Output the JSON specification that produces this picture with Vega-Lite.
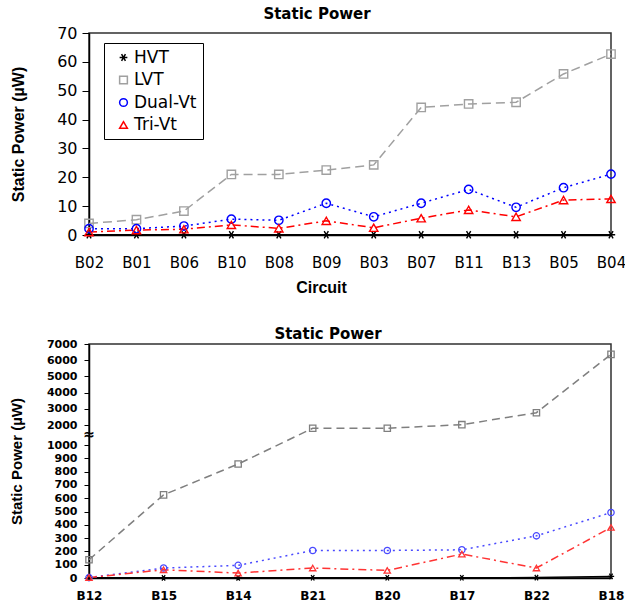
{
 "$schema": "https://vega.github.io/schema/vega-lite/v6.json",
 "padding": {"left": 8, "top": 6, "right": 0, "bottom": 0},
 "spacing": 30,
 "config": {
  "font": "DejaVu Sans",
  "view": {"stroke": "#303030", "strokeWidth": 1.5},
  "axis": {"grid": false, "domainColor": "#000", "domainWidth": 1.5, "tickColor": "#000", "labelColor": "#000", "titleColor": "#000", "titleFont": "Liberation Sans", "titleFontWeight": "bold"},
  "title": {"font": "DejaVu Sans", "fontWeight": "bold", "fontSize": 15, "color": "#000"}
 },
 "datasets": {
  "top": [
   {"Circuit": "B02", "Type": "HVT", "Power": 0.1},
   {"Circuit": "B01", "Type": "HVT", "Power": 0.1},
   {"Circuit": "B06", "Type": "HVT", "Power": 0.1},
   {"Circuit": "B10", "Type": "HVT", "Power": 0.1},
   {"Circuit": "B08", "Type": "HVT", "Power": 0.1},
   {"Circuit": "B09", "Type": "HVT", "Power": 0.1},
   {"Circuit": "B03", "Type": "HVT", "Power": 0.1},
   {"Circuit": "B07", "Type": "HVT", "Power": 0.1},
   {"Circuit": "B11", "Type": "HVT", "Power": 0.1},
   {"Circuit": "B13", "Type": "HVT", "Power": 0.1},
   {"Circuit": "B05", "Type": "HVT", "Power": 0.1},
   {"Circuit": "B04", "Type": "HVT", "Power": 0.1},
   {"Circuit": "B02", "Type": "LVT", "Power": 4},
   {"Circuit": "B01", "Type": "LVT", "Power": 5.3},
   {"Circuit": "B06", "Type": "LVT", "Power": 8.3},
   {"Circuit": "B10", "Type": "LVT", "Power": 21},
   {"Circuit": "B08", "Type": "LVT", "Power": 21},
   {"Circuit": "B09", "Type": "LVT", "Power": 22.5},
   {"Circuit": "B03", "Type": "LVT", "Power": 24.3},
   {"Circuit": "B07", "Type": "LVT", "Power": 44.2},
   {"Circuit": "B11", "Type": "LVT", "Power": 45.4},
   {"Circuit": "B13", "Type": "LVT", "Power": 46},
   {"Circuit": "B05", "Type": "LVT", "Power": 55.8},
   {"Circuit": "B04", "Type": "LVT", "Power": 62.7},
   {"Circuit": "B02", "Type": "Dual-Vt", "Power": 2.2},
   {"Circuit": "B01", "Type": "Dual-Vt", "Power": 2.2},
   {"Circuit": "B06", "Type": "Dual-Vt", "Power": 3.1},
   {"Circuit": "B10", "Type": "Dual-Vt", "Power": 5.5},
   {"Circuit": "B08", "Type": "Dual-Vt", "Power": 5.1},
   {"Circuit": "B09", "Type": "Dual-Vt", "Power": 11},
   {"Circuit": "B03", "Type": "Dual-Vt", "Power": 6.3},
   {"Circuit": "B07", "Type": "Dual-Vt", "Power": 11},
   {"Circuit": "B11", "Type": "Dual-Vt", "Power": 15.8},
   {"Circuit": "B13", "Type": "Dual-Vt", "Power": 9.6},
   {"Circuit": "B05", "Type": "Dual-Vt", "Power": 16.4},
   {"Circuit": "B04", "Type": "Dual-Vt", "Power": 21.1},
   {"Circuit": "B02", "Type": "Tri-Vt", "Power": 1},
   {"Circuit": "B01", "Type": "Tri-Vt", "Power": 1.7},
   {"Circuit": "B06", "Type": "Tri-Vt", "Power": 2},
   {"Circuit": "B10", "Type": "Tri-Vt", "Power": 3.5},
   {"Circuit": "B08", "Type": "Tri-Vt", "Power": 2.3},
   {"Circuit": "B09", "Type": "Tri-Vt", "Power": 4.9},
   {"Circuit": "B03", "Type": "Tri-Vt", "Power": 2.5},
   {"Circuit": "B07", "Type": "Tri-Vt", "Power": 5.8},
   {"Circuit": "B11", "Type": "Tri-Vt", "Power": 8.7},
   {"Circuit": "B13", "Type": "Tri-Vt", "Power": 6.3},
   {"Circuit": "B05", "Type": "Tri-Vt", "Power": 12.1},
   {"Circuit": "B04", "Type": "Tri-Vt", "Power": 12.5}
  ],
  "bottom": [
   {"Circuit": "B12", "Type": "HVT", "Power": 1},
   {"Circuit": "B15", "Type": "HVT", "Power": 1},
   {"Circuit": "B14", "Type": "HVT", "Power": 1},
   {"Circuit": "B21", "Type": "HVT", "Power": 2},
   {"Circuit": "B20", "Type": "HVT", "Power": 2},
   {"Circuit": "B17", "Type": "HVT", "Power": 2},
   {"Circuit": "B22", "Type": "HVT", "Power": 3},
   {"Circuit": "B18", "Type": "HVT", "Power": 12},
   {"Circuit": "B12", "Type": "LVT", "Power": 137},
   {"Circuit": "B15", "Type": "LVT", "Power": 625},
   {"Circuit": "B14", "Type": "LVT", "Power": 857},
   {"Circuit": "B21", "Type": "LVT", "Power": 1835},
   {"Circuit": "B20", "Type": "LVT", "Power": 1835},
   {"Circuit": "B17", "Type": "LVT", "Power": 2020},
   {"Circuit": "B22", "Type": "LVT", "Power": 2760},
   {"Circuit": "B18", "Type": "LVT", "Power": 6360},
   {"Circuit": "B12", "Type": "Dual-Vt", "Power": 3},
   {"Circuit": "B15", "Type": "Dual-Vt", "Power": 75},
   {"Circuit": "B14", "Type": "Dual-Vt", "Power": 95},
   {"Circuit": "B21", "Type": "Dual-Vt", "Power": 207},
   {"Circuit": "B20", "Type": "Dual-Vt", "Power": 207},
   {"Circuit": "B17", "Type": "Dual-Vt", "Power": 212},
   {"Circuit": "B22", "Type": "Dual-Vt", "Power": 317},
   {"Circuit": "B18", "Type": "Dual-Vt", "Power": 492},
   {"Circuit": "B12", "Type": "Tri-Vt", "Power": 3},
   {"Circuit": "B15", "Type": "Tri-Vt", "Power": 62},
   {"Circuit": "B14", "Type": "Tri-Vt", "Power": 37},
   {"Circuit": "B21", "Type": "Tri-Vt", "Power": 75},
   {"Circuit": "B20", "Type": "Tri-Vt", "Power": 57},
   {"Circuit": "B17", "Type": "Tri-Vt", "Power": 180},
   {"Circuit": "B22", "Type": "Tri-Vt", "Power": 75},
   {"Circuit": "B18", "Type": "Tri-Vt", "Power": 380}
  ]
 },
 "resolve": {"scale": {"x": "independent", "y": "independent", "color": "independent", "shape": "independent"}},
 "vconcat": [
  {
   "width": 522,
   "height": 202,
   "title": {"text": "Static Power", "dx": -33, "offset": 3},
   "data": {"name": "top"},
   "encoding": {
    "x": {"field": "Circuit", "type": "nominal", "sort": ["B02", "B01", "B06", "B10", "B08", "B09", "B03", "B07", "B11", "B13", "B05", "B04"], "scale": {"type": "point", "padding": 0},
      "axis": {"labelAngle": 0, "labelFontSize": 15, "labelPadding": 20, "tickSize": 0, "title": "Circuit", "titleFontSize": 16, "titlePadding": 9, "titleX": 232}},
    "y": {"field": "Power", "type": "quantitative", "scale": {"domain": [0, 70], "nice": false},
      "axis": {"values": [0, 10, 20, 30, 40, 50, 60, 70], "labelFontSize": 16, "tickSize": 7, "labelPadding": 5, "title": "Static Power (µW)", "titleFontSize": 16, "titlePadding": 30}}
   },
   "layer": [
    {"transform": [{"filter": "datum.Type === 'HVT'"}], "mark": {"type": "line", "strokeWidth": 1.5, "color": "#000000"}},
    {"transform": [{"filter": "datum.Type === 'LVT'"}], "mark": {"type": "line", "strokeWidth": 1.5, "color": "#a0a0a0", "strokeDash": [9, 5]}},
    {"transform": [{"filter": "datum.Type === 'Dual-Vt'"}], "mark": {"type": "line", "strokeWidth": 1.5, "color": "#0000ff", "strokeDash": [2, 4]}},
    {"transform": [{"filter": "datum.Type === 'Tri-Vt'"}], "mark": {"type": "line", "strokeWidth": 1.5, "color": "#ff0000", "strokeDash": [8, 4, 2, 4]}},
    {"mark": {"type": "point", "filled": false, "strokeWidth": 1.4, "size": 70, "opacity": 1},
     "encoding": {
      "color": {"field": "Type", "type": "nominal", "scale": {"domain": ["HVT", "LVT", "Dual-Vt", "Tri-Vt"], "range": ["#000000", "#a0a0a0", "#0000ff", "#ff0000"]},
        "legend": {"title": null, "orient": "none", "legendX": 15, "legendY": 10, "strokeColor": "#000", "padding": 6, "labelFontSize": 17, "rowPadding": 4.5, "symbolSize": 60, "symbolStrokeWidth": 1.5, "symbolOffset": 5, "labelOffset": 2}},
      "shape": {"field": "Type", "type": "nominal", "scale": {"domain": ["HVT", "LVT", "Dual-Vt", "Tri-Vt"], "range": ["M-1,0L1,0M-0.5,-0.87L0.5,0.87M-0.5,0.87L0.5,-0.87", "square", "circle", "triangle-up"]},
        "legend": {"title": null, "orient": "none", "legendX": 15, "legendY": 10, "strokeColor": "#000", "padding": 6, "labelFontSize": 17, "rowPadding": 4.5, "symbolSize": 60, "symbolStrokeWidth": 1.5, "symbolOffset": 5, "labelOffset": 2}}}}
   ]
  },
  {
   "width": 522,
   "height": 234,
   "title": {"text": "Static Power", "dx": -22, "offset": -4},
   "data": {"name": "bottom"},
   "encoding": {
    "x": {"field": "Circuit", "type": "nominal", "sort": ["B12", "B15", "B14", "B21", "B20", "B17", "B22", "B18"], "scale": {"type": "point", "padding": 0},
      "axis": {"labelAngle": 0, "labelFontSize": 12, "labelFontWeight": "bold", "labelPadding": 12, "tickSize": 0, "title": null}},
    "y": {"field": "Power", "type": "quantitative", "scale": {"domain": [0, 1000, 2000, 7000], "range": [234, 101, 81, 0], "nice": false, "zero": false},
      "axis": {"values": [0, 100, 200, 300, 400, 500, 600, 700, 800, 900, 1000, 2000, 3000, 4000, 5000, 6000, 7000], "format": "d", "labelFontSize": 11, "labelFontWeight": "bold", "tickSize": 5, "labelPadding": 7, "title": "Static Power (µW)", "titleFontSize": 15, "titlePadding": 22}}
   },
   "layer": [
    {"transform": [{"filter": "datum.Type === 'HVT'"}], "mark": {"type": "line", "strokeWidth": 1.5, "color": "#000000"}},
    {"transform": [{"filter": "datum.Type === 'LVT'"}], "mark": {"type": "line", "strokeWidth": 1.5, "color": "#7f7f7f", "strokeDash": [8, 5]}},
    {"transform": [{"filter": "datum.Type === 'Dual-Vt'"}], "mark": {"type": "line", "strokeWidth": 1.5, "color": "#4a4aff", "strokeDash": [2, 4]}},
    {"transform": [{"filter": "datum.Type === 'Tri-Vt'"}], "mark": {"type": "line", "strokeWidth": 1.5, "color": "#ff3333", "strokeDash": [8, 4, 2, 4]}},
    {"mark": {"type": "point", "filled": false, "strokeWidth": 1.3, "size": 40, "opacity": 1},
     "encoding": {
      "color": {"field": "Type", "type": "nominal", "scale": {"domain": ["HVT", "LVT", "Dual-Vt", "Tri-Vt"], "range": ["#000000", "#7f7f7f", "#4a4aff", "#ff3333"]}, "legend": null},
      "shape": {"field": "Type", "type": "nominal", "scale": {"domain": ["HVT", "LVT", "Dual-Vt", "Tri-Vt"], "range": ["M-1,0L1,0M-0.5,-0.87L0.5,0.87M-0.5,0.87L0.5,-0.87", "square", "circle", "triangle-up"]}, "legend": null}}},
    {"data": {"values": [{"Circuit": "B12", "Power": 1500, "sym": "≈"}]},
     "mark": {"type": "text", "fontSize": 14, "fontWeight": "bold", "color": "#000"},
     "encoding": {"text": {"field": "sym"}}}
   ]
  }
 ]
}
